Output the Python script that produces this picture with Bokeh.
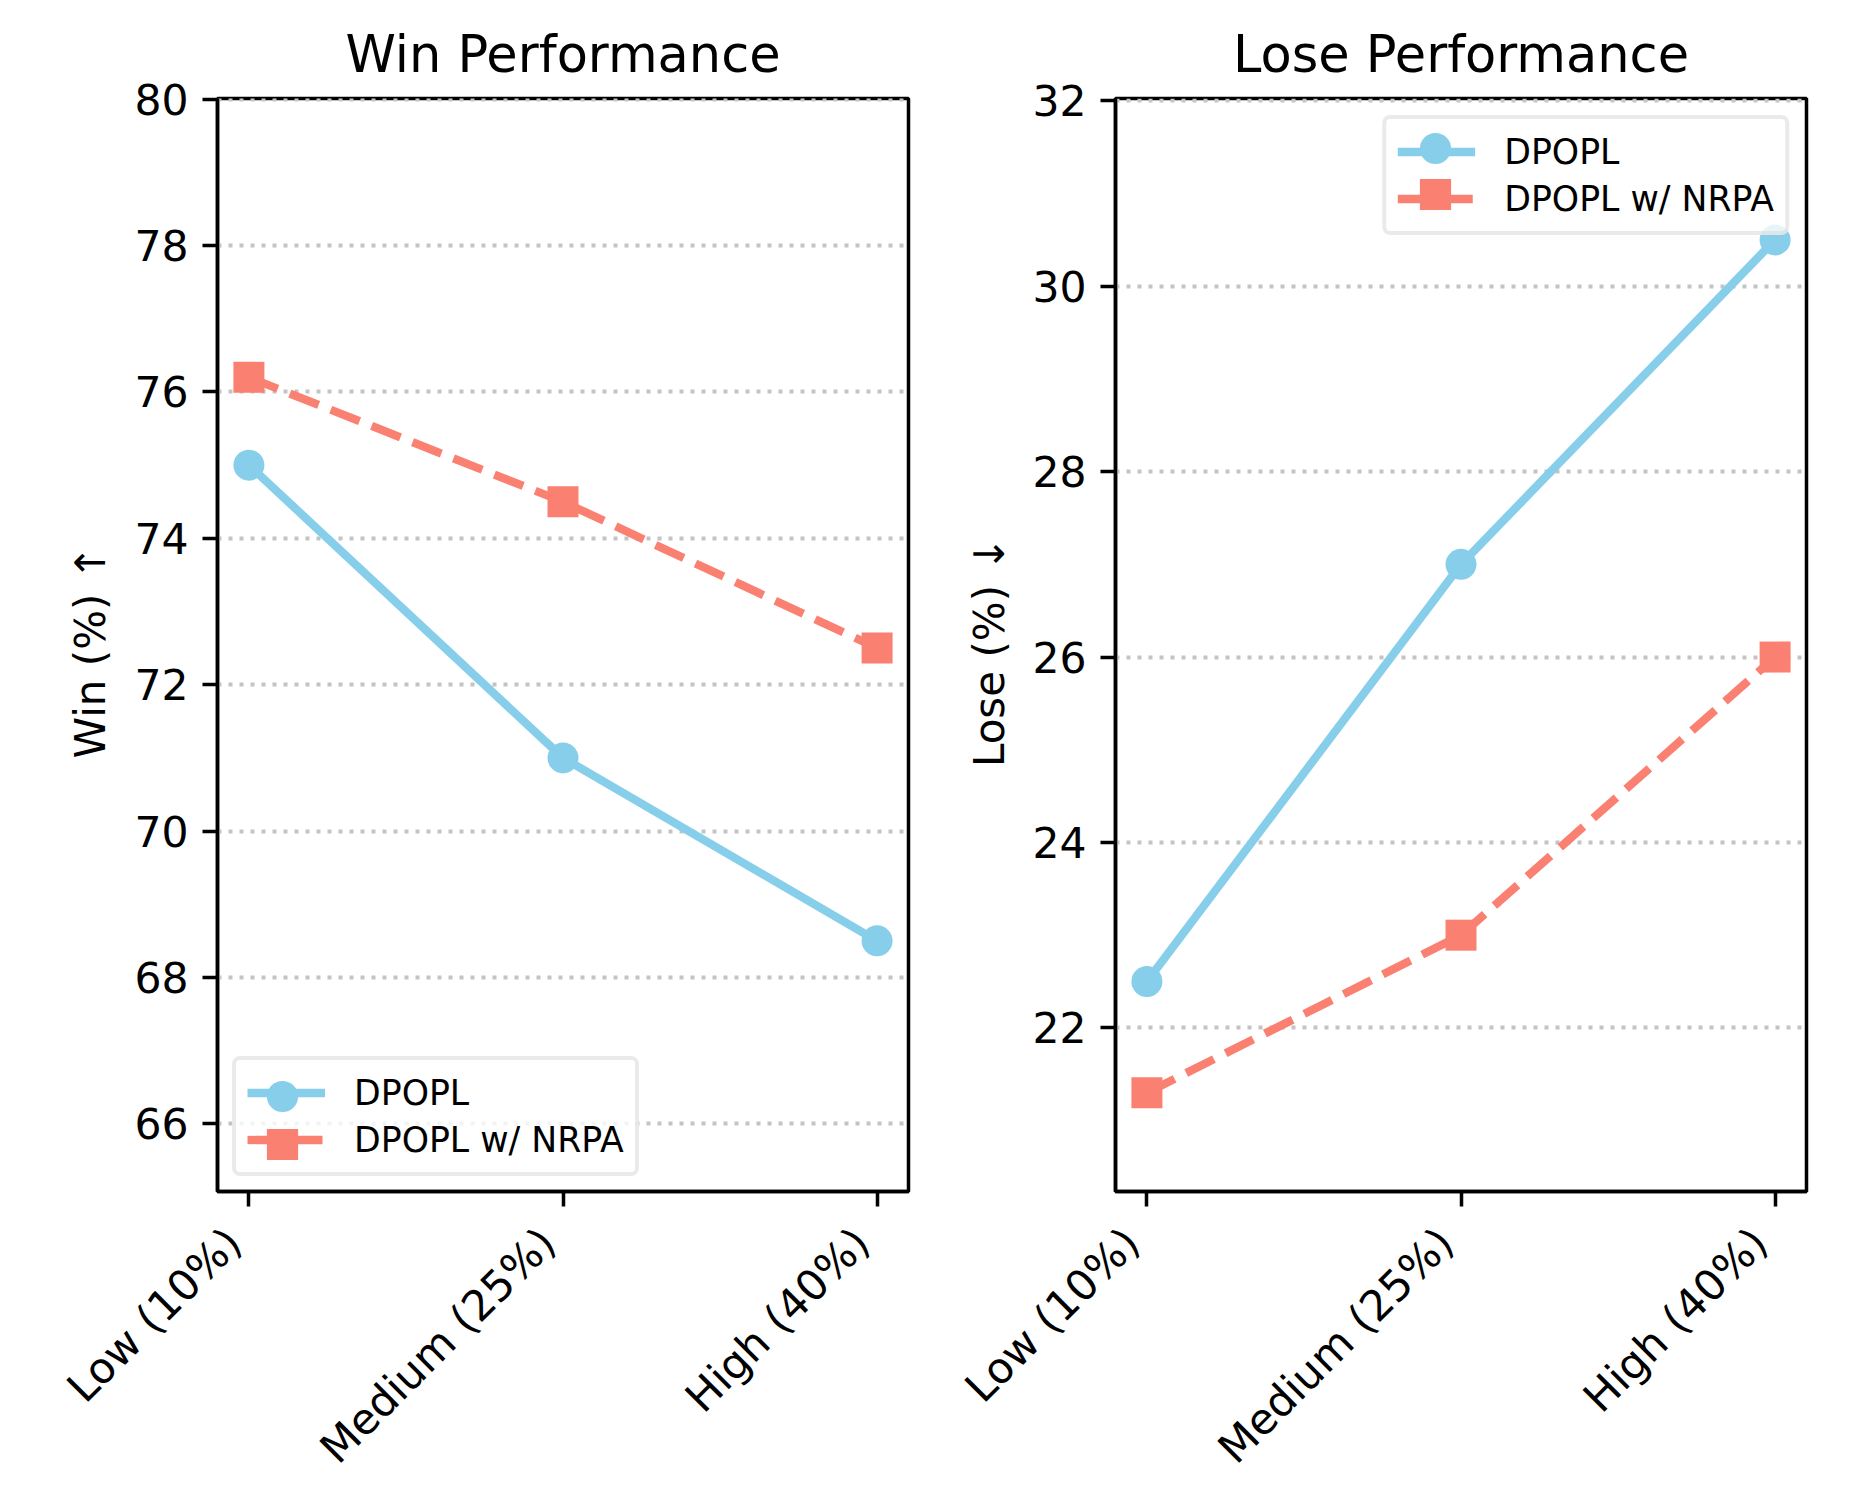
import math
from bokeh.plotting import figure
from bokeh.layouts import row
from bokeh.models import Range1d, FixedTicker, Legend, LegendItem
from bokeh.embed import file_html
from bokeh.resources import INLINE

# ---- data ----
categories = ["Low (10%)", "Medium (25%)", "High (40%)"]
series_names = ["DPOPL", "DPOPL w/ NRPA"]
win_dpopl = [75.0, 71.0, 68.5]
win_nrpa = [76.2, 74.5, 72.5]
lose_dpopl = [22.5, 27.0, 30.5]
lose_nrpa = [21.3, 23.0, 26.0]
win_ticks = [66, 68, 70, 72, 74, 76, 78, 80]
lose_ticks = [22, 24, 26, 28, 30, 32]

FONT = "DejaVu Sans"
BLUE = "#87CEEB"
SALMON = "#FA8072"
TOP = 98
FRAME_W = 691
FRAME_H = 1093
H = 1496

# legend geometry (screen px)
PAD_A = 11
GLYPH_W = 78
ROW_H = 43
ROW_SP = 4
STANDOFF = 29
LABEL_W_EST = 275
BIG = 78  # legend marker box -> marker size 0.4*78 ~ 31


def make_panel(title, ylabel, y1, y2, ticks, width, bl, br, legend_side, label_standoff):
    lo = min(min(y1), min(y2)) * 0.95
    hi = max(max(y1), max(y2)) * 1.05
    xs = list(range(len(categories)))
    p = figure(width=width, height=H, x_range=Range1d(-0.1, len(categories) - 0.9),
               y_range=Range1d(lo, hi), output_backend="svg", toolbar_location=None,
               min_border_left=bl, min_border_right=br, min_border_top=TOP,
               min_border_bottom=H - TOP - FRAME_H, title=title)
    p.background_fill_color = "white"
    p.border_fill_color = "white"
    p.outline_line_color = "black"
    p.outline_line_width = 3.5

    p.title.text_font = FONT
    p.title.text_font_size = "51px"
    p.title.text_font_style = "normal"
    p.title.text_color = "black"
    p.title.align = "center"
    p.title.standoff = 30

    p.xgrid.visible = False
    p.ygrid.ticker = FixedTicker(ticks=ticks)
    p.ygrid.grid_line_color = "#c4c4c4"
    p.ygrid.grid_line_width = 4
    p.ygrid.grid_line_dash = "4 7"

    for ax in (p.xaxis[0], p.yaxis[0]):
        ax.axis_line_color = "black"
        ax.axis_line_width = 3.5
        ax.major_tick_line_color = "black"
        ax.major_tick_line_width = 3.5
        ax.major_tick_out = 15
        ax.major_tick_in = 0
        ax.minor_tick_line_color = None
        ax.major_label_text_font = FONT
        ax.major_label_text_font_size = "42.5px"
        ax.major_label_text_color = "black"
        ax.major_label_standoff = 14

    p.xaxis.ticker = FixedTicker(ticks=xs)
    p.xaxis.major_label_overrides = {i: c + "\u2002" for i, c in enumerate(categories)}
    p.xaxis.major_label_orientation = math.pi / 4

    p.yaxis.ticker = FixedTicker(ticks=ticks)
    p.yaxis.axis_label = ylabel
    p.yaxis.axis_label_text_font = FONT
    p.yaxis.axis_label_text_font_size = "42px"
    p.yaxis.axis_label_text_font_style = "normal"
    p.yaxis.axis_label_text_color = "black"
    p.yaxis.axis_label_standoff = label_standoff

    l1 = p.line(xs, y1, line_color=BLUE, line_width=8.3)
    s1 = p.scatter(xs, y1, marker="circle", size=31, fill_color=BLUE, line_color=None)
    l2 = p.line(xs, y2, line_color=SALMON, line_width=8.3, line_dash="31 13")
    s2 = p.scatter(xs, y2, marker="square", size=31, fill_color=SALMON, line_color=None)

    # Legend A: box, lines and labels
    a_h = 2 * PAD_A + 2 * ROW_H + ROW_SP
    a_w = 2 * PAD_A + GLYPH_W + STANDOFF + LABEL_W_EST
    if legend_side == "bottom_left":
        m = 15
        loc_a = "bottom_left"
        a_left, a_top = m, FRAME_H - m - a_h  # from frame left / frame top
    else:
        m = 17
        loc_a = "top_right"
        a_left, a_top = FRAME_W - m - a_w, m
    leg_a = Legend(items=[LegendItem(label=series_names[0], renderers=[l1]),
                          LegendItem(label=series_names[1], renderers=[l2])],
                   location=loc_a)
    leg_a.margin = m
    leg_a.padding = PAD_A
    leg_a.spacing = ROW_SP
    leg_a.glyph_width = GLYPH_W
    leg_a.glyph_height = ROW_H
    leg_a.label_height = ROW_H
    leg_a.label_standoff = STANDOFF
    leg_a.label_text_font = FONT
    leg_a.label_text_font_size = "34.7px"
    leg_a.label_text_color = "black"
    leg_a.border_line_color = "#d6d6d6"
    leg_a.border_line_width = 4
    leg_a.background_fill_color = "white"
    leg_a.background_fill_alpha = 0.8
    if "border_radius" in Legend.properties():
        leg_a.border_radius = 8
    p.add_layout(leg_a, "center")

    # Legend B: one big marker per row, drawn over legend A's line glyphs
    for i, r in enumerate([s1, s2]):
        cy = a_top + PAD_A + ROW_H / 2 + i * (ROW_H + ROW_SP)
        bx = a_left + PAD_A
        by = FRAME_H - (cy + BIG / 2)
        leg_b = Legend(items=[LegendItem(label="", renderers=[r])],
                       location=(int(round(bx)), int(round(by))))
        leg_b.margin = 0
        leg_b.padding = 0
        leg_b.spacing = 0
        leg_b.glyph_width = GLYPH_W
        leg_b.glyph_height = BIG
        leg_b.label_height = BIG
        leg_b.label_standoff = 0
        leg_b.label_text_font_size = "1px"
        leg_b.label_text_alpha = 0
        leg_b.border_line_color = None
        leg_b.background_fill_alpha = 0
        p.add_layout(leg_b, "center")
    return p


p1 = make_panel("Win Performance", "Win (%)  \u2191", win_dpopl, win_nrpa, win_ticks,
                width=217 + FRAME_W + 47, bl=217, br=47, legend_side="bottom_left",
                label_standoff=16)
p2 = make_panel("Lose Performance", "Lose (%)  \u2193", lose_dpopl, lose_nrpa, lose_ticks,
                width=160 + FRAME_W + 36, bl=160, br=36, legend_side="top_right",
                label_standoff=15)

layout = row(p1, p2)
open("out.html", "w").write(file_html(layout, INLINE))
